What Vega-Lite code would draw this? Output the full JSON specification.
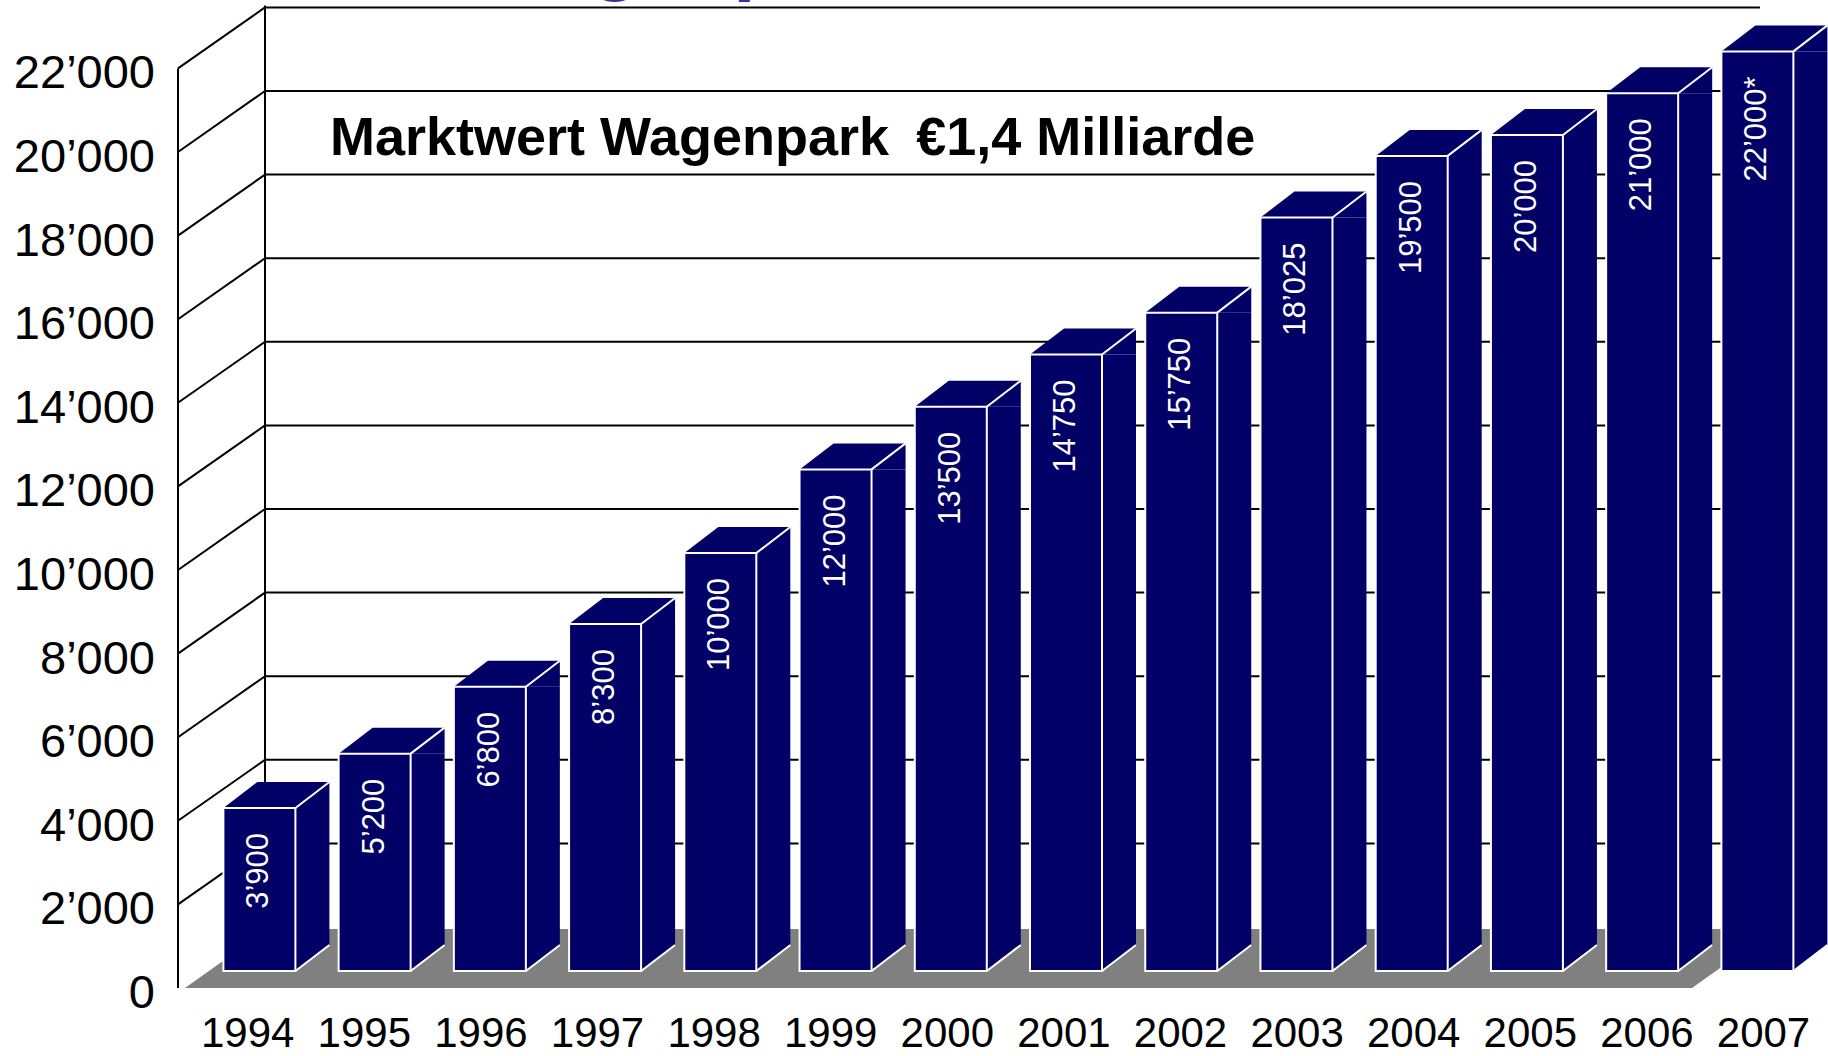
{
  "$schema": "https://vega.github.io/schema/vega-lite/v6.json",
  "width": 1650,
  "height": 1000,
  "padding": {"left": 178, "top": 0, "right": 0, "bottom": 56},
  "autosize": {"type": "none"},
  "background": "white",
  "config": {
    "view": {"stroke": null},
    "font": "Liberation Sans",
    "scale": {"continuousPadding": 0}
  },
  "datasets": {
    "bars": [
      {"year": 1994, "value": 3900, "label": "3’900"},
      {"year": 1995, "value": 5200, "label": "5’200"},
      {"year": 1996, "value": 6800, "label": "6’800"},
      {"year": 1997, "value": 8300, "label": "8’300"},
      {"year": 1998, "value": 10000, "label": "10’000"},
      {"year": 1999, "value": 12000, "label": "12’000"},
      {"year": 2000, "value": 13500, "label": "13’500"},
      {"year": 2001, "value": 14750, "label": "14’750"},
      {"year": 2002, "value": 15750, "label": "15’750"},
      {"year": 2003, "value": 18025, "label": "18’025"},
      {"year": 2004, "value": 19500, "label": "19’500"},
      {"year": 2005, "value": 20000, "label": "20’000"},
      {"year": 2006, "value": 21000, "label": "21’000"},
      {"year": 2007, "value": 22000, "label": "22’000*"}
    ],
    "grid": [
      {"v": 2000}, {"v": 4000}, {"v": 6000}, {"v": 8000}, {"v": 10000}, {"v": 12000},
      {"v": 14000}, {"v": 16000}, {"v": 18000}, {"v": 20000}, {"v": 22000}
    ],
    "ylab": [
      {"v": 0, "label": "0"},
      {"v": 2000, "label": "2’000"},
      {"v": 4000, "label": "4’000"},
      {"v": 6000, "label": "6’000"},
      {"v": 8000, "label": "8’000"},
      {"v": 10000, "label": "10’000"},
      {"v": 12000, "label": "12’000"},
      {"v": 14000, "label": "14’000"},
      {"v": 16000, "label": "16’000"},
      {"v": 18000, "label": "18’000"},
      {"v": 20000, "label": "20’000"},
      {"v": 22000, "label": "22’000"}
    ],
    "one": [{"t": 1}],
    "title": [{"text": "Marktwert Wagenpark\u2002€1,4 Milliarde"}],
    "top": [{"text": "Wagenpark"}]
  },
  "layer": [
    {
      "layer": [
        {
          "data": {"name": "one"},
          "mark": {"type": "point", "shape": "M0,0 L83,-59 L1590,-59 L1507,0 Z", "size": 4, "filled": true, "fill": "#808080", "strokeWidth": 0, "opacity": 1},
          "encoding": {
            "x": {"datum": 1993.3544, "type": "quantitative", "scale": {"domain": [1993.2936, 2007.6128], "nice": false, "zero": false, "padding": 0}, "axis": null},
            "y": {"datum": 0, "type": "quantitative", "scale": {"domain": [-287.08, 23636.36], "nice": false, "zero": false, "padding": 0}, "axis": null}
          }
        },
        {
          "data": {"name": "grid"},
          "mark": {"type": "rule", "color": "black", "strokeWidth": 2, "xOffset": 87, "yOffset": -61},
          "encoding": {
            "x": {"datum": 1993.2936, "type": "quantitative", "axis": null},
            "x2": {"datum": 2007.0224},
            "y": {"field": "v", "type": "quantitative", "axis": null}
          }
        },
        {
          "data": {"name": "one"},
          "mark": {"type": "rule", "color": "black", "strokeWidth": 2, "xOffset": 87, "yOffset": -61, "y2Offset": -63},
          "encoding": {
            "x": {"datum": 1993.2936, "type": "quantitative", "axis": null},
            "y": {"datum": 0, "type": "quantitative", "axis": null},
            "y2": {"datum": 22000}
          }
        },
        {
          "data": {"name": "grid"},
          "mark": {"type": "rule", "color": "black", "strokeWidth": 2, "x2Offset": 87, "y2Offset": -61},
          "encoding": {
            "x": {"datum": 1993.2936, "type": "quantitative", "axis": null},
            "x2": {"datum": 1993.2936},
            "y": {"field": "v", "type": "quantitative", "axis": null},
            "y2": {"field": "v"}
          }
        },
        {
          "data": {"name": "one"},
          "mark": {"type": "rule", "color": "black", "strokeWidth": 2},
          "encoding": {
            "x": {"datum": 1993.2936, "type": "quantitative", "axis": null},
            "y": {"datum": 0, "type": "quantitative", "axis": null},
            "y2": {"datum": 22000}
          }
        },
        {
          "data": {"name": "bars"},
          "mark": {"type": "bar", "fill": "#000066", "width": 34, "xOffset": 53, "yOffset": -17, "y2Offset": -43},
          "encoding": {
            "x": {"field": "year", "type": "quantitative", "axis": null},
            "y": {"field": "value", "type": "quantitative", "axis": null},
            "y2": {"datum": 0}
          }
        },
        {
          "data": {"name": "bars"},
          "mark": {"type": "point", "shape": "M-36,0 L70,0 L70,-26 L-2,-26 Z", "size": 4, "filled": true, "fill": "#000066", "strokeWidth": 0, "opacity": 1, "yOffset": -17},
          "encoding": {
            "x": {"field": "year", "type": "quantitative", "axis": null},
            "y": {"field": "value", "type": "quantitative", "axis": null}
          }
        },
        {
          "data": {"name": "bars"},
          "mark": {"type": "point", "shape": "M36,0 L70,-26 L36,-26 Z", "size": 4, "filled": true, "fill": "#000066", "strokeWidth": 0, "opacity": 1, "yOffset": -17},
          "encoding": {
            "x": {"field": "year", "type": "quantitative", "axis": null},
            "y": {"datum": 0, "type": "quantitative", "axis": null}
          }
        },
        {
          "data": {"name": "bars"},
          "mark": {"type": "bar", "fill": "#000066", "stroke": "white", "strokeWidth": 2, "width": 72, "yOffset": -17, "y2Offset": -17},
          "encoding": {
            "x": {"field": "year", "type": "quantitative", "axis": null},
            "y": {"field": "value", "type": "quantitative", "axis": null},
            "y2": {"datum": 0}
          }
        },
        {
          "data": {"name": "bars"},
          "mark": {"type": "point", "shape": "M36,0 L70,-26", "size": 4, "filled": false, "color": "white", "strokeWidth": 2, "opacity": 1, "yOffset": -17},
          "encoding": {
            "x": {"field": "year", "type": "quantitative", "axis": null},
            "y": {"field": "value", "type": "quantitative", "axis": null}
          }
        },
        {
          "data": {"name": "bars"},
          "mark": {"type": "point", "shape": "M36,0 L70,-26", "size": 4, "filled": false, "color": "white", "strokeWidth": 2, "opacity": 1, "yOffset": -17},
          "encoding": {
            "x": {"field": "year", "type": "quantitative", "axis": null},
            "y": {"datum": 0, "type": "quantitative", "axis": null}
          }
        },
        {
          "data": {"name": "bars"},
          "mark": {"type": "text", "angle": 270, "align": "right", "baseline": "middle", "fontSize": 31, "font": "Liberation Sans", "color": "white", "yOffset": 8},
          "encoding": {
            "x": {"field": "year", "type": "quantitative", "axis": null},
            "y": {"field": "value", "type": "quantitative", "axis": null},
            "text": {"field": "label"}
          }
        },
        {
          "data": {"name": "ylab"},
          "mark": {"type": "text", "align": "right", "baseline": "alphabetic", "fontSize": 47, "font": "Liberation Sans", "color": "black", "xOffset": -23, "yOffset": 20},
          "encoding": {
            "x": {"datum": 1993.2936, "type": "quantitative", "axis": null},
            "y": {"field": "v", "type": "quantitative", "axis": null},
            "text": {"field": "label"}
          }
        },
        {
          "data": {"name": "title"},
          "mark": {"type": "text", "align": "left", "baseline": "alphabetic", "fontSize": 54, "fontWeight": "bold", "font": "Liberation Sans", "color": "black"},
          "encoding": {
            "x": {"datum": 1994.6127, "type": "quantitative", "axis": null},
            "y": {"datum": 19928, "type": "quantitative", "axis": null},
            "text": {"field": "text"}
          }
        },
        {
          "data": {"name": "top"},
          "mark": {"type": "text", "align": "left", "baseline": "alphabetic", "fontSize": 80, "fontWeight": "bold", "font": "Liberation Sans", "color": "#333399"},
          "encoding": {
            "x": {"datum": 1995.8624, "type": "quantitative", "axis": null},
            "y": {"datum": 23995, "type": "quantitative", "axis": null},
            "text": {"field": "text"}
          }
        }
      ]
    },
    {
      "data": {"name": "bars"},
      "mark": {"type": "text", "align": "center", "baseline": "alphabetic", "fontSize": 42, "font": "Liberation Sans", "color": "black", "yOffset": 59},
      "encoding": {
        "x": {"field": "year", "type": "quantitative", "scale": {"domain": [1993.4022, 2007.5532], "nice": false, "zero": false, "padding": 0}, "axis": null},
        "y": {"datum": 0, "type": "quantitative", "axis": null},
        "text": {"field": "year", "type": "nominal"}
      }
    }
  ],
  "resolve": {"scale": {"x": "independent"}}
}
